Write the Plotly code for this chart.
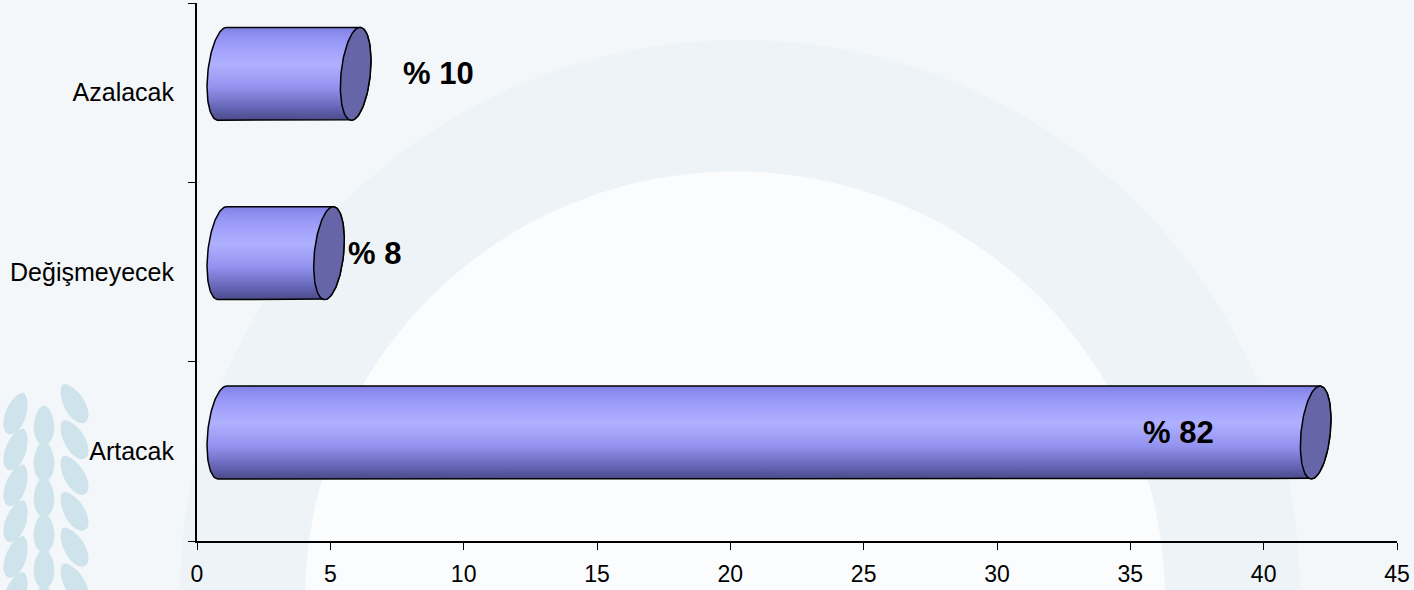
import numpy as np
import plotly.graph_objects as go

# ---- data ----
categories = ["Artacak", "Değişmeyecek", "Azalacak"]
values = [41, 4, 5]
x_ticks = [0, 5, 10, 15, 20, 25, 30, 35, 40, 45]

total = sum(values)
percents = [round(v / total * 100) for v in values]

# ---- style ----
FONT = "Liberation Sans, Arial, sans-serif"
W, H = 1414, 590
ML, MR, MT, MB = 197, 17, 3, 47
DEPTH_X = 0.95      # 3D depth shift along x (data units)
DEPTH_Y = 0.105     # 3D depth shift along y (category units)
BAR_H = 0.518       # bar thickness (category units)
ELL_A = 0.55        # ellipse half width (x units)
ELL_S = 0.163       # ellipse shear (x units)
label_offsets = [-5.15, 1.7, 3.1]
CAP_COLOR = "#6565a8"
grad = [
    [0.0, "#4a4a88"],
    [0.12, "#6262b2"],
    [0.35, "#9292ee"],
    [0.6, "#b0b0ff"],
    [0.8, "#9e9efa"],
    [0.94, "#8b8bee"],
    [1.0, "#8080e2"],
]

fig = go.Figure()

def ell(cx, cy, t, b):
    return cx + ELL_A * np.cos(t) + ELL_S * np.sin(t), cy + b * np.sin(t)

b = BAR_H / 2
for i, (cat, v) in enumerate(zip(categories, values)):
    x0 = DEPTH_X
    x1 = DEPTH_X + v
    yc = i + DEPTH_Y
    tl = np.linspace(np.pi / 2, 3 * np.pi / 2, 60)
    tr = np.linspace(-np.pi / 2, np.pi / 2, 60)
    lx, ly = ell(x0, yc, tl, b)
    rx, ry = ell(x1, yc, tr, b)
    bx = np.concatenate([lx, rx, lx[:1]])
    by = np.concatenate([ly, ry, ly[:1]])
    fig.add_trace(go.Scatter(
        x=bx, y=by, mode="lines", fill="toself",
        fillgradient=dict(type="vertical", colorscale=grad),
        line=dict(color="black", width=1.5),
        hoverinfo="skip", showlegend=False,
    ))
    tc = np.linspace(0, 2 * np.pi, 120)
    cx_, cy_ = ell(x1, yc, tc, b)
    fig.add_trace(go.Scatter(
        x=cx_, y=cy_, mode="lines", fill="toself", fillcolor=CAP_COLOR,
        line=dict(color="black", width=1.5),
        hoverinfo="skip", showlegend=False,
    ))
    fig.add_annotation(
        x=x1 + label_offsets[i], y=yc, text=f"% {percents[i]}",
        showarrow=False, xanchor="center", yanchor="middle",
        font=dict(family=FONT, size=31, color="black", weight="bold"),
    )

# ---- background watermark approximation (decoration, pixel -> paper) ----
PW, PH = W - ML - MR, H - MT - MB
def px(x):
    return (x - ML) / PW
def py(y):
    return (H - MB - y) / PH

def leaf_path(cx, cy, w, h, ang):
    t = np.linspace(0, 2 * np.pi, 40)
    xs = (w / 2) * np.sin(t) * np.abs(np.sin(t / 2)) ** 0.2
    ys = -(h / 2) * np.cos(t)
    a = np.deg2rad(ang)
    xr = cx + xs * np.cos(a) - ys * np.sin(a)
    yr = cy + xs * np.sin(a) + ys * np.cos(a)
    pts = [f"{px(x):.5f},{py(y):.5f}" for x, y in zip(xr, yr)]
    return "M" + " L".join(pts) + " Z"

shapes = [
    dict(type="circle", xref="paper", yref="paper", layer="below",
         x0=px(180), x1=px(1300), y0=py(1150), y1=py(40),
         fillcolor="#edf3f6", line=dict(width=0)),
    dict(type="circle", xref="paper", yref="paper", layer="below",
         x0=px(305), x1=px(1165), y0=py(1030), y1=py(172),
         fillcolor="#fbfcfd", line=dict(width=0)),
]
leaves = []
for k, yy in enumerate(range(405, 600, 36)):
    leaves.append((16, yy + 10, 22, 44, 20))
    leaves.append((44, yy + 22, 22, 40, 0))
    leaves.append((74, yy, 22, 44, -30))
for (cx, cy, w, h, ang) in leaves:
    shapes.append(dict(type="path", xref="paper", yref="paper", layer="below",
                       path=leaf_path(cx, cy, w, h, ang),
                       fillcolor="#cfe3ec", line=dict(width=0)))

fig.update_layout(
    width=W, height=H,
    margin=dict(l=ML, r=MR, t=MT, b=MB),
    paper_bgcolor="#f4f7f9",
    plot_bgcolor="rgba(0,0,0,0)",
    font=dict(family=FONT, color="black"),
    shapes=shapes,
    xaxis=dict(
        range=[0, 45], tickvals=x_ticks, ticks="outside", ticklen=7,
        tickwidth=1, tickcolor="black", showline=True, linewidth=2,
        linecolor="black", showgrid=False, zeroline=False,
        ticklabelstandoff=4,
        tickfont=dict(size=23, family=FONT, color="black"),
    ),
    yaxis=dict(
        range=[-0.5, 2.5], tickvals=[0, 1, 2], ticktext=categories,
        ticks="", showline=True, linewidth=2, linecolor="black",
        showgrid=False, zeroline=False, ticklabelstandoff=16,
        tickfont=dict(size=25, family=FONT, color="black"),
        minor=dict(tickvals=[-0.5, 0.5, 1.5, 2.5], ticks="outside",
                   ticklen=7, tickwidth=1, tickcolor="black", showgrid=False),
    ),
)

fig.write_html("out.html", config={"displayModeBar": False},
               post_script="document.body.style.margin='0px';")
